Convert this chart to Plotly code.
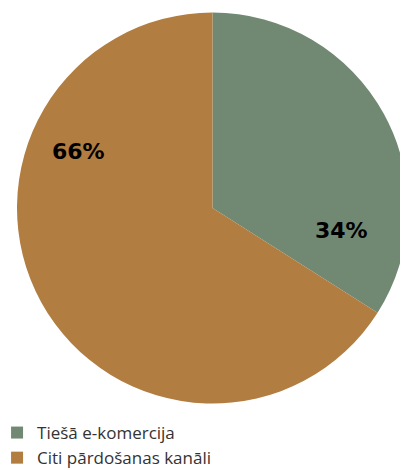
import plotly.graph_objects as go

labels = ["Tiešā e-komercija", "Citi pārdošanas kanāli"]
values = [34, 66]
colors = ["#718973", "#b27d40"]

# label anchor positions (paper fractions) for the percentage texts
label_pos = [(0.830, 0.443), (0.157, 0.643)]

fig = go.Figure()
fig.add_trace(go.Pie(
    labels=labels,
    values=values,
    marker=dict(colors=colors, line=dict(width=0)),
    sort=False,
    direction="clockwise",
    rotation=0,
    textinfo="none",
    hoverinfo="label+percent",
    domain=dict(x=[0, 1], y=[0, 1]),
))

total = sum(values)
for v, (px, py) in zip(values, label_pos):
    fig.add_annotation(
        x=px, y=py, xref="paper", yref="paper",
        xanchor="center", yanchor="middle",
        text=f"<b>{round(100 * v / total)}%</b>",
        showarrow=False,
        font=dict(family="DejaVu Sans", size=22, color="#000000"),
    )

fig.update_layout(
    width=400, height=462,
    margin=dict(l=9, r=0, t=3, b=65, autoexpand=False),
    paper_bgcolor="white",
    plot_bgcolor="white",
    showlegend=True,
    legend=dict(
        orientation="v",
        x=-0.051, y=-0.0254, xanchor="left", yanchor="top",
        font=dict(family="Open Sans", size=17, color="#333333"),
        traceorder="normal",
    ),
)

fig.write_html("out.html")
